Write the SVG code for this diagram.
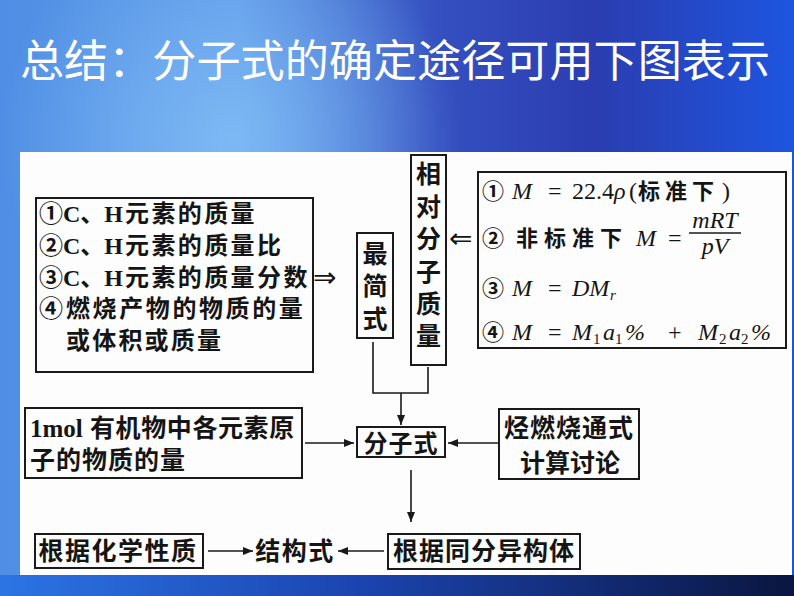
<svg xmlns="http://www.w3.org/2000/svg" width="794" height="596" viewBox="0 0 794 596">
<style>
.box{fill:none;stroke:#1a1a1a;stroke-width:2}
.cj{font-family:"Noto Sans CJK SC","Noto Sans CJK JP",sans-serif;fill:#151515;font-weight:bold}
.t24{font-size:24px}
.t25{font-size:25px}
.t22{font-size:22px}
.ser{font-family:"Liberation Serif",serif;fill:#151515;font-size:24px}
.it{font-style:italic}
.sub{font-size:15px}
.ln{fill:none;stroke:#1a1a1a;stroke-width:1.6}
.dbl{font-family:"DejaVu Sans",sans-serif;font-size:28px;fill:#151515}
</style>
<defs>
<linearGradient id="bg" x1="0" y1="0" x2="1" y2="0">
<stop offset="0" stop-color="#4f8ee4"/>
<stop offset="0.3" stop-color="#5e9ae8"/>
<stop offset="0.55" stop-color="#3550c0"/>
<stop offset="0.75" stop-color="#2b3db0"/>
<stop offset="1" stop-color="#1d55e0"/>
</linearGradient>
<radialGradient id="glow" cx="230" cy="140" r="230" gradientUnits="userSpaceOnUse">
<stop offset="0" stop-color="#80bcf5" stop-opacity="0.9"/>
<stop offset="1" stop-color="#80bcf5" stop-opacity="0"/>
</radialGradient>
<linearGradient id="bot" x1="0" y1="0" x2="1" y2="0">
<stop offset="0" stop-color="#2c74e4"/>
<stop offset="0.45" stop-color="#1c44b0"/>
<stop offset="1" stop-color="#0a1640"/>
</linearGradient>
<marker id="ah" viewBox="0 0 10 8" refX="10" refY="4" markerWidth="10" markerHeight="8" markerUnits="userSpaceOnUse" orient="auto">
<path d="M0,0 L10,4 L0,8 Z" fill="#1a1a1a"/>
</marker>
</defs>

<g id="background">
<rect width="794" height="596" fill="url(#bg)"/>
<rect width="794" height="596" fill="url(#glow)"/>
<rect x="0" y="575" width="794" height="21" fill="url(#bot)"/>
<rect x="20" y="152" width="772" height="423" fill="#fdfdfd"/>
</g>

<g id="title">
<text x="20" y="77" font-family="Noto Sans CJK SC,sans-serif" font-size="44" textLength="750" lengthAdjust="spacingAndGlyphs" fill="#ffffff">总结：分子式的确定途径可用下图表示</text>
</g>

<g id="box-conditions">
<rect class="box" x="36" y="198" width="277" height="174"/>
<text class="cj t24" y="222"><tspan x="39">①</tspan><tspan x="63" font-family="Liberation Serif">C</tspan>、<tspan font-family="Liberation Serif">H</tspan><tspan dx="2" letter-spacing="2.4">元素的质量</tspan></text>
<text class="cj t24" y="254"><tspan x="39">②</tspan><tspan x="63" font-family="Liberation Serif">C</tspan>、<tspan font-family="Liberation Serif">H</tspan><tspan dx="2" letter-spacing="2.4">元素的质量比</tspan></text>
<text class="cj t24" y="286"><tspan x="39">③</tspan><tspan x="63" font-family="Liberation Serif">C</tspan>、<tspan font-family="Liberation Serif">H</tspan><tspan dx="2" letter-spacing="2.4">元素的质量分数</tspan></text>
<text class="cj t24" y="317"><tspan x="39">④</tspan><tspan x="66" letter-spacing="2.6">燃烧产物的物质的量</tspan></text>
<text class="cj t24" x="66" y="349" letter-spacing="2.2">或体积或质量</text>
</g>

<g id="box-simplest">
<rect class="box" x="357" y="233" width="36" height="105"/>
<text class="cj t25" x="375" text-anchor="middle" y="263">最</text>
<text class="cj t25" x="375" text-anchor="middle" y="295">简</text>
<text class="cj t25" x="375" text-anchor="middle" y="328">式</text>
</g>

<g id="box-relmass">
<rect class="box" x="411" y="155" width="35" height="210"/>
<text class="cj t25" x="428.5" text-anchor="middle" y="183">相</text>
<text class="cj t25" x="428.5" text-anchor="middle" y="216">对</text>
<text class="cj t25" x="428.5" text-anchor="middle" y="248">分</text>
<text class="cj t25" x="428.5" text-anchor="middle" y="281">子</text>
<text class="cj t25" x="428.5" text-anchor="middle" y="313">质</text>
<text class="cj t25" x="428.5" text-anchor="middle" y="345">量</text>
</g>

<g id="box-formulas">
<rect class="box" x="478" y="172" width="308" height="176"/>
<text class="cj t22" x="482" y="199">①</text>
<text class="ser it" x="512" y="199">M</text>
<text class="ser" x="548" y="199">=</text>
<text class="ser" x="572" y="199">22.4<tspan class="it">ρ</tspan></text>
<text class="ser" x="629" y="199">(</text>
<text class="cj t22" x="638" y="199" letter-spacing="5">标准下</text>
<text class="ser" x="722" y="199">)</text>

<text class="cj t22" x="482" y="246">②</text>
<text class="cj t22" x="516" y="246" letter-spacing="6">非标准下</text>
<text class="ser it" x="636" y="246">M</text>
<text class="ser" x="668" y="246">=</text>
<text class="ser it" x="715" y="228" text-anchor="middle">mRT</text>
<line class="ln" x1="689" y1="233" x2="741" y2="233"/>
<text class="ser it" x="715" y="254" text-anchor="middle">pV</text>

<text class="cj t22" x="482" y="296">③</text>
<text class="ser it" x="512" y="296">M</text>
<text class="ser" x="548" y="296">=</text>
<text class="ser it" x="572" y="296">DM</text>
<text class="ser it sub" x="610" y="300">r</text>

<text class="cj t22" x="482" y="340">④</text>
<text class="ser it" x="512" y="340">M</text>
<text class="ser" x="548" y="340">=</text>
<text class="ser it" x="572" y="340">M</text>
<text class="ser sub" x="593" y="344">1</text>
<text class="ser it" x="603" y="340">a</text>
<text class="ser sub" x="615" y="344">1</text>
<text class="ser it" x="625" y="340">%</text>
<text class="ser" x="668" y="340">+</text>
<text class="ser it" x="698" y="340">M</text>
<text class="ser sub" x="719" y="344">2</text>
<text class="ser it" x="729" y="340">a</text>
<text class="ser sub" x="741" y="344">2</text>
<text class="ser it" x="751" y="340">%</text>
</g>

<g id="box-1mol">
<rect class="box" x="25" y="408" width="277" height="70"/>
<text class="cj t25" y="437"><tspan x="30" font-family="Liberation Serif">1mol</tspan><tspan x="90" letter-spacing="0.6">有机物中各元素原</tspan></text>
<text class="cj t25" x="30" y="469" letter-spacing="1">子的物质的量</text>
</g>

<g id="box-molecular">
<rect class="box" x="357" y="427" width="88" height="30"/>
<text class="cj t24" x="401" y="452" text-anchor="middle" letter-spacing="1">分子式</text>
</g>

<g id="box-hydrocarbon">
<rect class="box" x="499" y="409" width="140" height="70"/>
<text class="cj t25" x="569" y="437" text-anchor="middle" letter-spacing="1">烃燃烧通式</text>
<text class="cj t25" x="570" y="472" text-anchor="middle">计算讨论</text>
</g>

<g id="box-isomer">
<rect class="box" x="388" y="534" width="192" height="35"/>
<text class="cj t25" x="484" y="560" text-anchor="middle" letter-spacing="1">根据同分异构体</text>
</g>

<g id="node-struct">
<text class="cj t25" x="295" y="560" text-anchor="middle" letter-spacing="1.5">结构式</text>
</g>

<g id="box-chem">
<rect class="box" x="35" y="534" width="168" height="34"/>
<text class="cj t25" x="118" y="560" text-anchor="middle" letter-spacing="1.5">根据化学性质</text>
</g>

<g id="connectors">
<text class="dbl" x="313" y="287">⇒</text>
<text class="dbl" x="449" y="248">⇐</text>
<polyline class="ln" points="373,342 373,393 428,393 428,367"/>
<line class="ln" x1="401" y1="393" x2="401" y2="425" marker-end="url(#ah)"/>
<line class="ln" x1="305" y1="443" x2="354" y2="443" marker-end="url(#ah)"/>
<line class="ln" x1="498" y1="443" x2="448" y2="443" marker-end="url(#ah)"/>
<line class="ln" x1="411" y1="470" x2="411" y2="522" marker-end="url(#ah)"/>
<line class="ln" x1="384" y1="551" x2="338" y2="551" marker-end="url(#ah)"/>
<line class="ln" x1="208" y1="551" x2="253" y2="551" marker-end="url(#ah)"/>
</g>
</svg>
